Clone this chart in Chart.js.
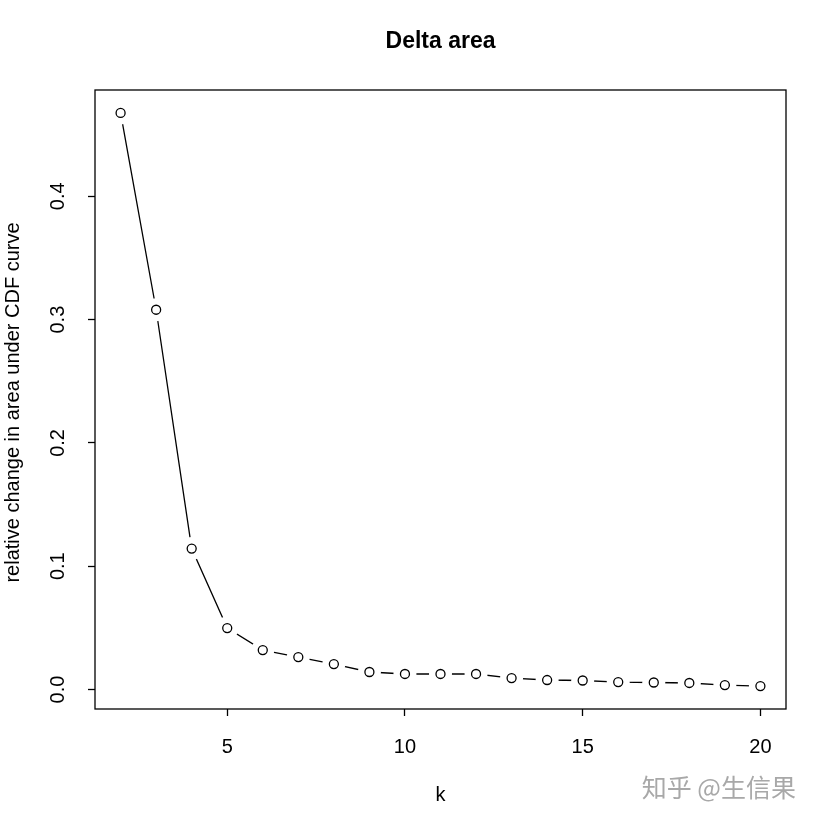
<!DOCTYPE html>
<html>
<head>
<meta charset="utf-8">
<script src="https://cdn.jsdelivr.net/npm/chart.js@4.4.1/dist/chart.umd.min.js"></script>
<style>
  body { margin: 0; background: #fff; }
  #wrap { width: 815px; height: 818px; position: relative; }
</style>
</head>
<body>
<div id="wrap"><canvas id="deltaChart"></canvas></div>
<script>
// 1. Data
const ks = [2, 3, 4, 5, 6, 7, 8, 9, 10, 11, 12, 13, 14, 15, 16, 17, 18, 19, 20];
const deltaArea = [0.4676, 0.308, 0.1143, 0.0498, 0.032, 0.0263, 0.0206, 0.0142, 0.0126, 0.0126,
                   0.0126, 0.0093, 0.0077, 0.0073, 0.006, 0.0057, 0.0053, 0.0036, 0.0028];
const xTickVals = [5, 10, 15, 20];
const yTickVals = [0, 0.1, 0.2, 0.3, 0.4];

const chartTitle = 'Delta area';
const xTitle = 'k';
const yTitle = 'relative change in area under CDF curve';
const watermark = '知乎 @生信果';

const points = ks.map((k, i) => ({ x: k, y: deltaArea[i] }));
const FONT = '"Liberation Sans", Arial, Helvetica, sans-serif';

// 2. Frame + texts (R base graphics look)
const framePlugin = {
    id: 'frame',
    afterDraw(chart) {
        const { ctx, chartArea: a } = chart;
        ctx.save();
        ctx.strokeStyle = '#000';
        ctx.lineWidth = 1.3;
        ctx.strokeRect(a.left, a.top, a.right - a.left, a.bottom - a.top);

        const cx = (a.left + a.right) / 2;
        const cy = (a.top + a.bottom) / 2;
        ctx.fillStyle = '#000';
        ctx.textAlign = 'center';
        ctx.textBaseline = 'middle';

        ctx.font = 'bold 23px ' + FONT;
        ctx.fillText(chartTitle, cx, 42);

        ctx.font = '20px ' + FONT;
        ctx.fillText(xTitle, cx, 795);

        ctx.save();
        ctx.translate(13, cy + 3);
        ctx.rotate(-Math.PI / 2);
        ctx.fillText(yTitle, 0, 0);
        ctx.restore();

        ctx.fillStyle = '#a8a8a8';
        ctx.font = '25px "Noto Sans CJK SC", sans-serif';
        ctx.textAlign = 'right';
        ctx.fillText(watermark, 796, 787);
        ctx.restore();
    }
};

// 3. Chart
const ctx = document.getElementById('deltaChart').getContext('2d');
const deltaChart = new Chart(ctx, {
    type: 'scatter',
    data: {
        datasets: [
            { label: 'circles', data: points, showLine: false, pointRadius: 4.5, pointHoverRadius: 4.5,
              pointBackgroundColor: '#fff', pointBorderColor: '#000', pointBorderWidth: 1.3, order: 1 },
            { label: 'gaps', data: points, showLine: false, pointRadius: 11.5, pointHoverRadius: 11.5,
              pointBackgroundColor: '#fff', pointBorderWidth: 0, order: 2 },
            { label: 'line', data: points, showLine: true, pointRadius: 0, borderColor: '#000',
              borderWidth: 1.3, tension: 0, order: 3 }
        ]
    },
    options: {
        responsive: true,
        maintainAspectRatio: false,
        animation: false,
        events: [],
        layout: { padding: { top: 90, right: 29, left: 0, bottom: 0 } },
        plugins: { legend: { display: false }, tooltip: { enabled: false } },
        scales: {
            x: {
                type: 'linear',
                min: 1.28, max: 20.72,
                afterBuildTicks: s => { s.ticks = xTickVals.map(v => ({ value: v })); },
                afterFit: s => { s.height = 109; },
                grid: { drawOnChartArea: false, tickLength: 7, tickColor: '#000', tickWidth: 1.3 },
                border: { display: false },
                ticks: { color: '#000', font: { family: FONT, size: 20 }, padding: 19, maxRotation: 0,
                         callback: v => String(v) }
            },
            y: {
                type: 'linear',
                min: -0.0158, max: 0.4862,
                afterBuildTicks: s => { s.ticks = yTickVals.map(v => ({ value: v })); },
                afterFit: s => { s.width = 95; },
                grid: { drawOnChartArea: false, tickLength: 7, tickColor: '#000', tickWidth: 1.3 },
                border: { display: false },
                ticks: { color: '#000', font: { family: FONT, size: 20 }, padding: 16,
                         minRotation: 90, maxRotation: 90, crossAlign: 'center',
                         callback: v => v.toFixed(1) }
            }
        }
    },
    plugins: [framePlugin]
});
</script>
</body>
</html>
